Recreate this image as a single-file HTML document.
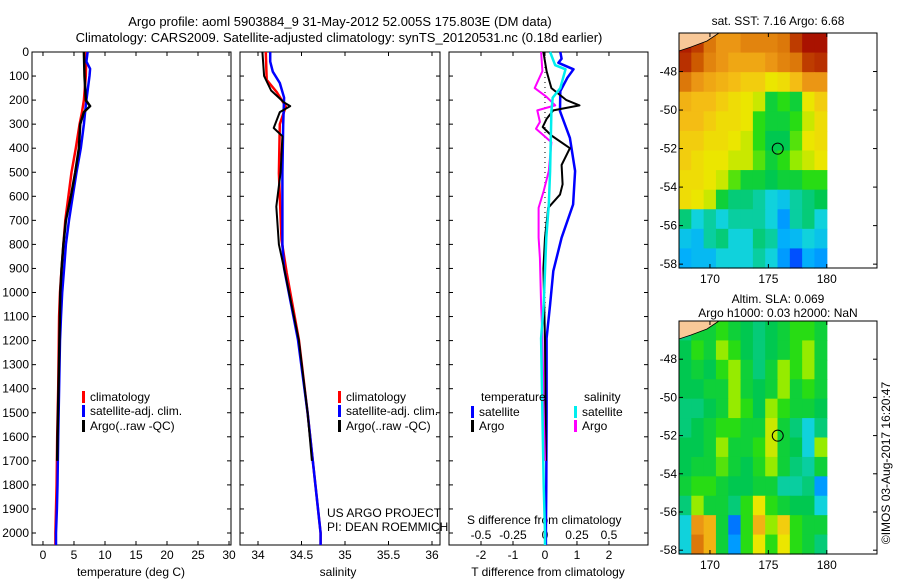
<!DOCTYPE html>
<html><head><meta charset="utf-8"><style>
body{margin:0;background:#fff;}
svg{font-family:"Liberation Sans",sans-serif;}
</style></head><body>
<svg id="fig" width="900" height="580" viewBox="0 0 900 580">
<text x="340" y="26" font-size="13" text-anchor="middle">Argo profile: aoml 5903884_9 31-May-2012 52.005S 175.803E (DM data)</text>
<text x="339" y="42" font-size="13" text-anchor="middle">Climatology: CARS2009. Satellite-adjusted climatology: synTS_20120531.nc (0.18d earlier)</text>
<g id="plots"></g>
</svg>
<script>
// ---- data ----
const depthTicks=[0,100,200,300,400,500,600,700,800,900,1000,1100,1200,1300,1400,1500,1600,1700,1800,1900,2000];
const tempTicks=[0,5,10,15,20,25,30];
const salTicks=[34,34.5,35,35.5,36];
const salTickLabels=["34","34.5","35","35.5","36"];
const diffTTicks=[-2,-1,0,1,2];
const diffSTickLabels=["-0.5","-0.25","0","0.25","0.5"];

const tClimDepth=[0,100,200,250,300,400,500,600,700,800,900,1000,1100,1200,1400,1600,1800,1900,2000,2050];
const tClimVal=[7.0,6.9,6.6,6.3,5.9,5.3,4.6,4.1,3.6,3.3,3.0,2.75,2.6,2.55,2.45,2.3,2.2,2.1,2.0,2.0];
const tSatDepth=[0,40,70,100,200,250,300,400,500,600,700,800,900,1000,1100,1200,1400,1600,1800,1900,2000,2050];
const tSatVal=[7.2,7.0,7.6,7.5,7.0,6.8,6.6,6.1,5.4,4.8,4.2,3.7,3.4,3.1,2.9,2.75,2.6,2.45,2.35,2.25,2.1,2.1];
const tArgoDepth=[0,100,200,225,250,300,400,500,600,700,800,900,1000,1200,1400,1600,1700];
const tArgoVal=[6.6,6.7,6.9,7.6,6.6,6.0,5.8,5.2,4.5,3.7,3.3,3.0,2.8,2.65,2.5,2.35,2.3];

const sClimDepth=[0,116,169,227,300,504,781,918,1197,1500,1800,2000,2050];
const sClimVal=[34.09,34.1,34.22,34.32,34.25,34.24,34.27,34.33,34.47,34.57,34.66,34.72,34.72];
const sSatDepth=[0,40,82,129,190,300,500,800,900,1197,1500,1800,2000,2050];
const sSatVal=[34.14,34.14,34.17,34.25,34.3,34.29,34.28,34.28,34.3,34.46,34.57,34.66,34.72,34.72];
const sArgoDepth=[0,100,160,210,225,250,316,350,500,643,800,900,1200,1500,1700];
const sArgoVal=[34.05,34.07,34.15,34.3,34.37,34.25,34.18,34.28,34.26,34.21,34.24,34.3,34.47,34.57,34.62];

const dTSatDepth=[0,28,45,72,107,163,246,357,495,634,772,911,1050,1190,1500,1800,2000,2050];
const dTSatVal=[0.48,0.52,0.42,0.89,0.7,0.48,0.47,0.78,0.94,0.88,0.52,0.26,0.16,0.05,0.05,0.04,0.03,0.03];
const dTArgoDepth=[0,80,150,200,222,243,278,312,347,400,470,550,593,648,772,900,1200,1500,1700];
const dTArgoVal=[-0.05,0.05,0.2,0.67,1.08,0.26,0.05,-0.07,0.2,0.78,0.52,0.55,0.47,0.1,0.0,-0.05,0.0,0.02,0.03];
const dSSatDepth=[0,55,72,150,190,246,495,634,772,1050,1190,1500,1800,2000,2050];
const dSSatVal=[0.04,0.08,0.16,0.12,0.06,0.05,0.04,0.03,0.01,-0.01,-0.03,-0.02,-0.01,0.0,0.0];
const dSArgoDepth=[0,80,150,186,222,243,291,319,375,495,578,648,772,856,1050,1190,1500,1700];
const dSArgoVal=[-0.03,-0.02,-0.08,0.01,0.08,-0.06,-0.04,-0.07,0.05,0.03,-0.01,-0.05,-0.05,-0.04,-0.03,-0.02,-0.01,0.0];

const mapLonTicks=[170,175,180];
const mapLatTicks=[-48,-50,-52,-54,-56,-58];
const sstGrid=[
[.95,.9,.8,.75,.75,.78,.78,.78,.8,.9,.97,.97],
[.92,.85,.78,.75,.72,.72,.72,.75,.78,.8,.9,.92],
[.8,.75,.72,.7,.68,.65,.65,.6,.62,.68,.75,.75],
[.7,.68,.68,.65,.62,.6,.58,.45,.5,.45,.6,.65],
[.68,.68,.65,.62,.62,.6,.5,.45,.45,.5,.58,.62],
[.65,.65,.62,.62,.6,.58,.5,.42,.42,.52,.6,.62],
[.65,.62,.6,.6,.58,.58,.52,.45,.5,.55,.58,.6],
[.62,.62,.6,.58,.52,.45,.45,.42,.45,.45,.5,.5],
[.62,.6,.58,.45,.4,.4,.38,.35,.32,.38,.4,.42],
[.4,.35,.38,.35,.38,.38,.38,.35,.25,.38,.4,.35],
[.32,.3,.38,.4,.35,.35,.4,.38,.28,.3,.35,.32],
[.28,.3,.3,.35,.35,.35,.38,.35,.25,.15,.28,.25]];
const slaGrid=[
[.4,.45,.45,.5,.45,.42,.4,.42,.45,.5,.5,.45],
[.42,.5,.45,.55,.5,.42,.4,.42,.45,.5,.55,.45],
[.42,.45,.42,.5,.55,.45,.4,.45,.55,.5,.55,.45],
[.42,.42,.45,.45,.55,.45,.42,.45,.55,.45,.5,.45],
[.4,.4,.42,.45,.55,.5,.42,.55,.5,.45,.45,.42],
[.4,.42,.45,.5,.5,.45,.45,.58,.45,.4,.35,.4],
[.42,.42,.45,.55,.45,.45,.5,.58,.45,.42,.35,.55],
[.42,.45,.45,.52,.45,.42,.48,.55,.45,.4,.38,.45],
[.45,.5,.5,.45,.42,.42,.45,.45,.38,.38,.4,.25],
[.4,.55,.45,.45,.4,.5,.6,.5,.45,.42,.42,.35],
[.35,.75,.7,.45,.2,.5,.7,.55,.65,.5,.45,.45],
[.35,.8,.7,.45,.25,.5,.6,.5,.6,.5,.45,.4]];
const argoLon=175.803, argoLat=-52.005;

// ---- drawing ----
const NS="http://www.w3.org/2000/svg";
const root=document.getElementById('plots');
function mk(tag,attrs,parent){const e=document.createElementNS(NS,tag);for(const k in attrs)e.setAttribute(k,attrs[k]);(parent||root).appendChild(e);return e;}
const PT=52, PB=545, yD=d=>PT+d*0.2405;
const panels=[
 {name:'temperature',x0:32,x1:231,vmin:-1.77,vmax:30.32},
 {name:'salinity',x0:240,x1:440,vmin:33.793,vmax:36.092},
 {name:'difference',x0:449,x1:648,vmin:-3.0,vmax:3.22}
];
panels.forEach(p=>{p.sx=v=>p.x0+(v-p.vmin)/(p.vmax-p.vmin)*(p.x1-p.x0);});
function line(p,depths,vals,color,w,name,scale){
 const pts=depths.map((d,i)=>p.sx(vals[i]*(scale||1)).toFixed(1)+','+yD(d).toFixed(1)).join(' ');
 const e=mk('polyline',{points:pts,fill:'none',stroke:color,'stroke-width':w,'stroke-linejoin':'round'});
 
 
}
panels.forEach((p,pi)=>{
 const r=mk('rect',{x:p.x0,y:PT,width:p.x1-p.x0,height:PB-PT,fill:'none',stroke:'#000','stroke-width':1});
 
 
 depthTicks.forEach(d=>{mk('line',{x1:p.x0,x2:p.x0+4,y1:yD(d),y2:yD(d),stroke:'#000'});mk('line',{x1:p.x1,x2:p.x1-4,y1:yD(d),y2:yD(d),stroke:'#000'});});
});
depthTicks.forEach(d=>{const t=mk('text',{x:29,y:yD(d)+4,'font-size':12,'text-anchor':'end'});t.textContent=d;
 
 });
function xticks(p,vals,labels,y){vals.forEach((v,i)=>{const x=p.sx(v);mk('line',{x1:x,x2:x,y1:PT,y2:PT+4,stroke:'#000'});mk('line',{x1:x,x2:x,y1:PB,y2:PB-4,stroke:'#000'});
 if(labels){const t=mk('text',{x:x,y:y,'font-size':12,'text-anchor':'middle'});t.textContent=labels[i];
 
 }});}
xticks(panels[0],tempTicks,tempTicks.map(String),559);
xticks(panels[1],salTicks,salTickLabels,559);
xticks(panels[2],diffTTicks,diffTTicks.map(String),559);
diffSTickLabels.forEach((l,i)=>{const t=mk('text',{x:panels[2].sx(diffTTicks[i]),y:539,'font-size':12,'text-anchor':'middle'});t.textContent=l;
 
 });
function txt(x,y,s,name,anchor,size){const t=mk('text',{x:x,y:y,'font-size':size||12,'text-anchor':anchor||'start'});t.textContent=s;
 
 return t;}
txt(131,576,'temperature (deg C)','temperature-axis-title','middle');
txt(338,576,'salinity','salinity-axis-title','middle');
txt(548,576,'T difference from climatology','t-diff-axis-title','middle');
txt(467,524,'S difference from climatology','s-diff-axis-title');
txt(327,517,'US ARGO PROJECT','project-credit');
txt(327,531,'PI: DEAN ROEMMICH','pi-credit');

line(panels[0],tClimDepth,tClimVal,'#f00',2.5,'temp-climatology-line');
line(panels[0],tSatDepth,tSatVal,'#00f',2.5,'temp-satellite-line');
line(panels[0],tArgoDepth,tArgoVal,'#000',2.5,'temp-argo-line');
line(panels[1],sClimDepth,sClimVal,'#f00',2.5,'sal-climatology-line');
line(panels[1],sSatDepth,sSatVal,'#00f',2.5,'sal-satellite-line');
line(panels[1],sArgoDepth,sArgoVal,'#000',2,'sal-argo-line');
const zl=mk('line',{x1:panels[2].sx(0),x2:panels[2].sx(0),y1:PT,y2:yD(1200),stroke:'#000','stroke-dasharray':'1 4'});


line(panels[2],dTSatDepth,dTSatVal,'#00f',2.5,'t-diff-satellite-line');
line(panels[2],dTArgoDepth,dTArgoVal,'#000',2,'t-diff-argo-line');
line(panels[2],dSArgoDepth,dSArgoVal,'#f0f',2,'s-diff-argo-line',4);
line(panels[2],dSSatDepth,dSSatVal,'#0ee',2.5,'s-diff-satellite-line',4);

function leg(x,y,color,label,name){const b=mk('rect',{x:x,y:y-9,width:3,height:12,fill:color});
 
 
 txt(x+8,y+1,label,name);}
[82,338].forEach(x=>{
 leg(x,400,'#f00','climatology','legend-climatology');
 leg(x,414,'#00f','satellite-adj. clim.','legend-satellite');
 leg(x,429,'#000','Argo(..raw -QC)','legend-argo');});
txt(481,401,'temperature','legend-temperature-header');
txt(584,401,'salinity','legend-salinity-header');
leg(471,415,'#00f','satellite','legend-t-satellite');
leg(471,429,'#000','Argo','legend-t-argo');
leg(574,415,'#0ee','satellite','legend-s-satellite');
leg(574,429,'#f0f','Argo','legend-s-argo');

// maps
const stops=[[0,[0,16,176]],[.15,[0,80,255]],[.27,[0,170,255]],[.35,[16,210,220]],[.42,[0,200,80]],[.5,[40,220,20]],[.55,[150,235,0]],[.6,[235,230,0]],[.67,[245,195,20]],[.75,[235,150,20]],[.85,[205,90,0]],[1,[160,0,0]]];
function cmap(v){for(let i=1;i<stops.length;i++){if(v<=stops[i][0]){const a=stops[i-1],b=stops[i],t=(v-a[0])/(b[0]-a[0]);return 'rgb('+a[1].map((c,k)=>Math.round(c+(b[1][k]-c)*t)).join(',')+')';}}return 'rgb(160,0,0)';}
const LON0=167.35,LON1=184.3,LAT0=-46.0,LAT1=-58.2;
function drawMap(y0,h,grid,prefix,title,titleY){
 const x0=679,x1=877;
 const mx=lon=>x0+(lon-LON0)/(LON1-LON0)*(x1-x0);
 const my=lat=>y0+(lat-LAT0)/(LAT1-LAT0)*h;
 const g=mk('g',{});
 
 
 const nr=grid.length,nc=grid[0].length;
 const cw=(mx(180)-x0)/nc, ch=h/nr;
 grid.forEach((row,r)=>row.forEach((v,c)=>{
  const cell=mk('rect',{x:(x0+c*cw).toFixed(2),y:(y0+r*ch).toFixed(2),width:(cw+0.6).toFixed(2),height:(ch+0.6).toFixed(2),fill:cmap(v)},g);
  
  
 }));
 const land=mk('path',{d:`M${x0} ${y0} L${x0+40} ${y0} L${x0+28} ${y0+8} L${x0+12} ${y0+14} L${x0} ${y0+18} Z`,fill:'#f8c898',stroke:'#000','stroke-width':0.8},g);
 
 
 const c=mk('circle',{cx:mx(argoLon),cy:my(argoLat),r:5.5,fill:'none',stroke:'#000','stroke-width':1},g);
 
 
 const b=mk('rect',{x:x0,y:y0,width:x1-x0,height:h,fill:'none',stroke:'#000'},g);
 
 
 mapLatTicks.forEach(l=>{const y=my(l);mk('line',{x1:x0,x2:x0+4,y1:y,y2:y,stroke:'#000'},g);mk('line',{x1:x1,x2:x1-4,y1:y,y2:y,stroke:'#000'},g);
  const t=mk('text',{x:x0-2,y:y+4,'font-size':12,'text-anchor':'end'},g);t.textContent=l;
  
  });
 mapLonTicks.forEach(l=>{const x=mx(l);mk('line',{x1:x,x2:x,y1:y0,y2:y0+4,stroke:'#000'},g);mk('line',{x1:x,x2:x,y1:y0+h,y2:y0+h-4,stroke:'#000'},g);
  const t=mk('text',{x:x,y:y0+h+15,'font-size':12,'text-anchor':'middle'},g);t.textContent=l;
  
  });
 title.forEach((s,i)=>txt(778,titleY[i],s,prefix+'-map-title','middle'));
}
drawMap(33,235,sstGrid,'sst',['sat. SST: 7.16 Argo: 6.68'],[25]);
drawMap(321,233,slaGrid,'sla',['Altim. SLA: 0.069','Argo h1000: 0.03 h2000: NaN'],[303,317]);
const cr=txt(0,0,'©IMOS 03-Aug-2017 16:20:47','timestamp','middle');
cr.setAttribute('transform','translate(890,463) rotate(-90)');
</script>
</body></html>
